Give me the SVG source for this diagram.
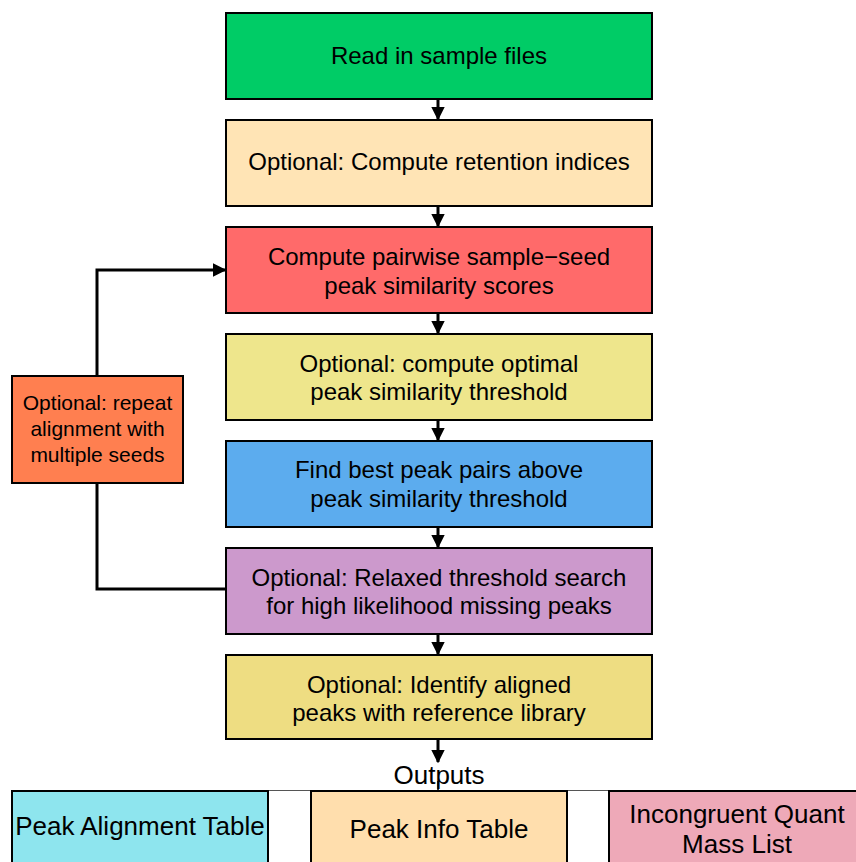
<svg xmlns="http://www.w3.org/2000/svg" width="856" height="862" viewBox="0 0 856 862">
<defs>
<style>
.box{stroke:#000;stroke-width:2}
.t{font-family:"Liberation Sans",Arial,sans-serif;font-size:24px;fill:#000;text-anchor:middle;dominant-baseline:central}
.ts{font-size:21px}
.tb{font-size:26px}
.c{fill:none;stroke:#000;stroke-width:3}
</style>
<marker id="ah" viewBox="0 0 10 10" refX="9" refY="5" markerWidth="4.5" markerHeight="4.5" markerUnits="strokeWidth" orient="auto">
<path d="M0,0 L10,5 L0,10 z" fill="#000"/>
</marker>
</defs>
<rect width="856" height="862" fill="#fff"/>
<g id="connectors">
<line class="c" x1="438" y1="99" x2="438" y2="119" marker-end="url(#ah)"/>
<line class="c" x1="438" y1="206" x2="438" y2="226" marker-end="url(#ah)"/>
<line class="c" x1="438" y1="313" x2="438" y2="333" marker-end="url(#ah)"/>
<line class="c" x1="438" y1="420" x2="438" y2="440" marker-end="url(#ah)"/>
<line class="c" x1="438" y1="527" x2="438" y2="547" marker-end="url(#ah)"/>
<line class="c" x1="438" y1="634" x2="438" y2="654" marker-end="url(#ah)"/>
<line class="c" x1="438" y1="740" x2="438" y2="762" marker-end="url(#ah)"/>
<line x1="438" y1="781" x2="438" y2="790" stroke="#000" stroke-width="1.5"/>
<polyline class="c" points="97,376 97,270 225,270" marker-end="url(#ah)"/>
<polyline class="c" points="97,483 97,589 226,589"/>
<line x1="12" y1="790.5" x2="856" y2="790.5" stroke="#555" stroke-width="1"/>
</g>
<g id="n1"><rect class="box" x="226" y="13" width="426" height="86" fill="#00CC66"/><text class="t" x="439" y="55">Read in sample files</text></g>
<g id="n2"><rect class="box" x="226" y="120" width="426" height="86" fill="#FFE4B5"/><text class="t" x="439" y="161">Optional: Compute retention indices</text></g>
<g id="n3"><rect class="box" x="226" y="227" width="426" height="86" fill="#FF6A6A"/><text class="t" x="439" y="256">Compute pairwise sample−seed</text><text class="t" x="439" y="285">peak similarity scores</text></g>
<g id="n4"><rect class="box" x="226" y="334" width="426" height="86" fill="#EEE68C"/><text class="t" x="439" y="363">Optional: compute optimal</text><text class="t" x="439" y="391">peak similarity threshold</text></g>
<g id="n5"><rect class="box" x="226" y="441" width="426" height="86" fill="#5CACEE"/><text class="t" x="439" y="469">Find best peak pairs above</text><text class="t" x="439" y="498">peak similarity threshold</text></g>
<g id="n6"><rect class="box" x="226" y="548" width="426" height="86" fill="#CC99CC"/><text class="t" x="439" y="577">Optional: Relaxed threshold search</text><text class="t" x="439" y="605">for high likelihood missing peaks</text></g>
<g id="n7"><rect class="box" x="226" y="655" width="426" height="84" fill="#EEDD82"/><text class="t" x="439" y="684">Optional: Identify aligned</text><text class="t" x="439" y="712">peaks with reference library</text></g>
<g id="loop"><rect class="box" x="12" y="376" width="171" height="107" fill="#FF7F50"/><text class="t ts" x="97.5" y="402">Optional: repeat</text><text class="t ts" x="97.5" y="428">alignment with</text><text class="t ts" x="97.5" y="454">multiple seeds</text></g>
<g id="outputs-label"><text class="t tb" x="439" y="775">Outputs</text></g>
<g id="o1"><rect class="box" x="12" y="791" width="256" height="80" fill="#8EE5EE"/><text class="t tb" x="140" y="826">Peak Alignment Table</text></g>
<g id="o2"><rect class="box" x="311" y="791" width="256" height="80" fill="#FFDEAD"/><text class="t tb" x="439" y="829">Peak Info Table</text></g>
<g id="o3"><rect class="box" x="609" y="791" width="256" height="80" fill="#EEA9B8"/><text class="t tb" x="737" y="814">Incongruent Quant</text><text class="t tb" x="737" y="844">Mass List</text></g>
</svg>
